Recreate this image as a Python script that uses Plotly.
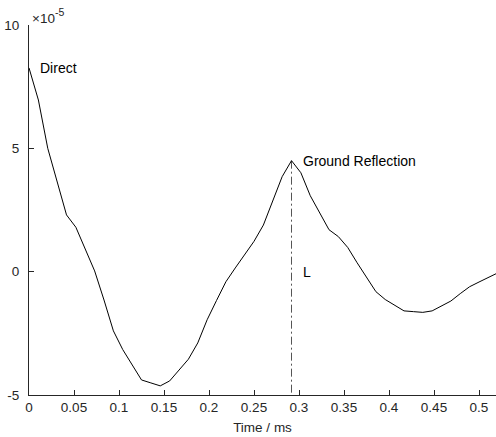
import numpy as np
import plotly.graph_objects as go

# Impulse response sampled at 96 kHz (amplitude in units of 1e-5)
sample_rate_khz = 96.0
amplitude_e5 = [
    8.26, 6.96, 5.00, 3.60, 2.30, 1.80, 0.90, 0.03, -1.15, -2.40,
    -3.16, -3.75, -4.39, -4.51, -4.63, -4.43, -4.00, -3.55, -2.89, -1.95,
    -1.17, -0.41, 0.15, 0.68, 1.23, 1.89, 2.89, 3.85, 4.50, 4.01,
    3.08, 2.40, 1.70, 1.42, 0.98, 0.36, -0.23, -0.81, -1.13, -1.35,
    -1.59, -1.62, -1.65, -1.59, -1.38, -1.19, -0.89, -0.61, -0.42, -0.24,
    -0.05,
]
time_ms = np.arange(len(amplitude_e5)) / sample_rate_khz

# Arrival markers
direct_idx = 0
reflection_idx = 28
labels = ["Direct", "Ground Reflection", "L"]

x_ticks = [0, 0.05, 0.1, 0.15, 0.2, 0.25, 0.3, 0.35, 0.4, 0.45, 0.5]
y_ticks = [-5, 0, 5, 10]

axis_col = "#262626"
font_family = "Liberation Sans, Arial, Helvetica, sans-serif"
tick_size = 13.5
text_size = 14

fig = go.Figure()

t_ref = time_ms[reflection_idx]
a_ref = amplitude_e5[reflection_idx]

# Vertical dash-dot marker at the ground reflection
fig.add_trace(go.Scatter(
    x=[t_ref, t_ref], y=[a_ref, -5],
    mode="lines",
    line=dict(color="#555555", width=1, dash="8px,3px,2px,3px"),
    hoverinfo="skip", showlegend=False,
))

fig.add_trace(go.Scatter(
    x=time_ms, y=amplitude_e5,
    mode="lines",
    line=dict(color="black", width=1),
    showlegend=False,
))

offset = 0.01
fig.add_annotation(x=time_ms[direct_idx] + offset, y=amplitude_e5[direct_idx],
                   text=labels[0], showarrow=False, xanchor="left", yanchor="middle")
fig.add_annotation(x=t_ref + offset, y=a_ref,
                   text=labels[1], showarrow=False, xanchor="left", yanchor="middle")
fig.add_annotation(x=t_ref + offset, y=0,
                   text=labels[2], showarrow=False, xanchor="left", yanchor="middle")

# Axis exponent: base and raised power
fig.add_annotation(xref="paper", yref="paper", x=0.0, y=1.0,
                   text="×10", showarrow=False,
                   xanchor="left", yanchor="bottom", xshift=1, yshift=-3,
                   font=dict(color=axis_col, size=tick_size))
fig.add_annotation(xref="paper", yref="paper", x=0.0, y=1.0,
                   text="-5", showarrow=False,
                   xanchor="left", yanchor="bottom", xshift=24, yshift=5,
                   font=dict(color=axis_col, size=10.5))

fig.update_layout(
    width=496, height=437,
    margin=dict(l=29, r=0, t=25, b=42),
    paper_bgcolor="white", plot_bgcolor="white",
    font=dict(family=font_family, size=text_size, color="black"),
    xaxis=dict(
        range=[0, 467 / 900], tickvals=x_ticks,
        ticktext=[f"{v:g}" for v in x_ticks],
        ticks="inside", ticklen=5, tickcolor=axis_col,
        showline=True, linecolor=axis_col, linewidth=1,
        showgrid=False, zeroline=False,
        tickfont=dict(color=axis_col, size=tick_size),
        title=dict(text="Time / ms", font=dict(color=axis_col, size=tick_size), standoff=8),
    ),
    yaxis=dict(
        range=[-5, 10], tickvals=y_ticks,
        ticktext=[f"{v:g}" for v in y_ticks],
        ticks="inside", ticklen=5, tickcolor=axis_col,
        ticklabelstandoff=6,
        showline=True, linecolor=axis_col, linewidth=1,
        showgrid=False, zeroline=False,
        tickfont=dict(color=axis_col, size=tick_size),
    ),
)

fig.write_html("out.html")
